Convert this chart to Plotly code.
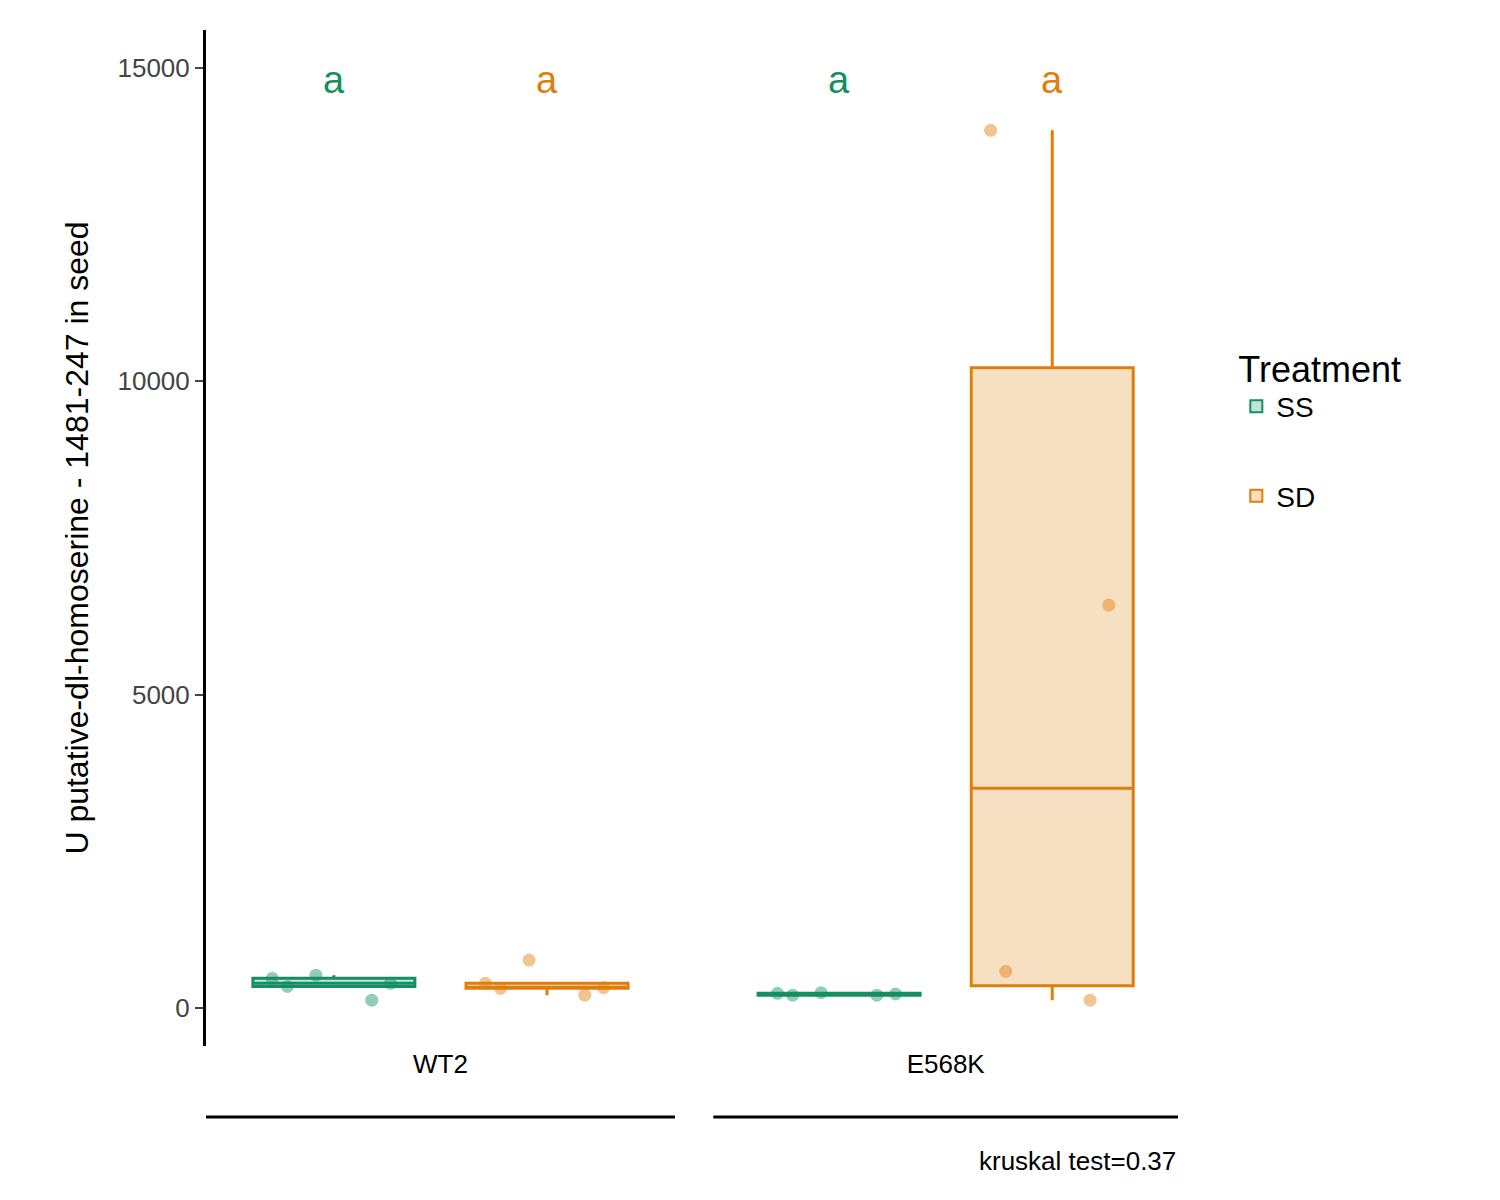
import plotly.graph_objects as go

# values
genotypes = ["WT2", "E568K"]
ss_wt2 = [130, 480, 530, 350, 400]
sd_wt2 = [210, 320, 330, 400, 770]
ss_e568k = [210, 250, 240, 210, 230]
sd_e568k = [130, 590, 6430, 14000]
letters = ["a", "a", "a", "a"]
pvalue = 0.37
yticks = [0, 5000, 10000, 15000]

green = "#148F62"
orange = "#E07E0C"
pos = {"WT2": [0, 1], "E568K": [2.37, 3.37]}

fig = go.Figure()
series = [
    ("SS", green, "rgba(20,143,98,0.25)", ss_wt2, ss_e568k, 0),
    ("SD", orange, "rgba(224,126,12,0.25)", sd_wt2, sd_e568k, 1),
]
for name, col, fill, a, b, k in series:
    for i, (g, vals) in enumerate(zip(genotypes, [a, b])):
        fig.add_trace(go.Box(
            x=[pos[g][k]] * len(vals), y=vals, name=name, legendgroup=name,
            showlegend=(i == 0), line=dict(color=col, width=3), fillcolor=fill,
            width=0.76, whiskerwidth=0, boxpoints="all", jitter=0.9, pointpos=0,
            marker=dict(color=col, size=13, opacity=0.45),
            quartilemethod="inclusive",
        ))

for g in genotypes:
    for k, col in enumerate([green, orange]):
        fig.add_annotation(x=pos[g][k], y=14800, text=letters[k], showarrow=False,
                           font=dict(size=38, color=col, family="Liberation Sans"))

for lo, hi in [(-0.6, 1.6), (1.78, 3.96)]:
    fig.add_shape(type="line", xref="x", yref="paper", x0=lo, x1=hi, y0=-0.07, y1=-0.07,
                  line=dict(color="black", width=3))

fig.add_annotation(xref="paper", yref="paper", x=1, y=-0.13, xanchor="right",
                   text=f"kruskal test={pvalue}", showarrow=False,
                   font=dict(size=26, color="black"))

fig.update_layout(
    width=1500, height=1200, plot_bgcolor="white", paper_bgcolor="white",
    font=dict(family="Liberation Sans", size=22, color="black"),
    margin=dict(l=198, r=330, t=22, b=162),
    xaxis=dict(range=[-0.6, 3.96], tickvals=[0.5, 2.87], ticktext=genotypes,
               showline=False, showgrid=False, zeroline=False, ticks="",
               tickfont=dict(size=26, color="black")),
    yaxis=dict(range=[-600, 15600], tickvals=yticks, ticktext=[str(v) for v in yticks],
               showline=True, linecolor="black", linewidth=3, ticks="outside",
               ticklen=8, tickwidth=2, showgrid=False, zeroline=False,
               tickfont=dict(size=26, color="#444"),
               title=dict(text="U putative-dl-homoserine - 1481-247 in seed",
                          font=dict(size=32), standoff=20)),
    legend=dict(x=1.06, y=0.7, title=dict(text="Treatment", font=dict(size=36)),
                font=dict(size=28), itemsizing="constant", tracegroupgap=50),
)

fig.write_html("out.html")
